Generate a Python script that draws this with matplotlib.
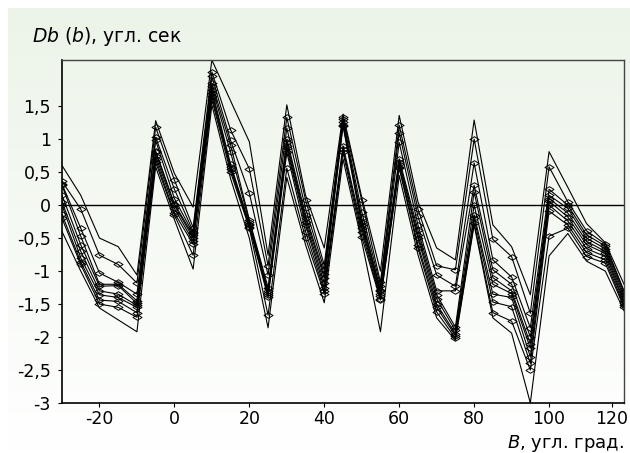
import numpy as np
import matplotlib
matplotlib.use('Agg')
import matplotlib.pyplot as plt
from matplotlib.path import Path

plt.rcParams['font.family'] = ['DejaVu Sans']
plt.rcParams['mathtext.fontset'] = 'dejavusans'

# ------------------------------------------------ #
# ---------------- data (read off) --------------- #
# ------------------------------------------------ #
B = list(range(-30, 121, 5))

# envelope lines, no markers
upper = [0.6, 0.15, -0.5, -0.63, -1.06, 1.28, 0.48, -0.03, 2.2, 1.58, 0.96, -0.76, 1.52, 0.15, -0.65, 1.38,
         0.12, -1.0, 1.36, 0.05, -0.65, -0.83, 1.29, -0.3, -0.63, -1.36, 0.81, 0.27, -0.28, -0.57, -1.2]
lower = [-0.4, -1.0, -1.56, -1.74, -1.92, 0.58, -0.22, -0.97, 1.52, 0.4, -0.5, -1.86, 0.42, -0.6, -1.48, 0.7,
         -0.55, -1.92, 0.45, -0.75, -1.71, -2.05, -0.3, -1.71, -1.94, -3.0, -0.77, -0.43, -0.85, -1.0, -1.6]

# measured series with diamond markers
s1 = [0.36, -0.06, -0.76, -0.9, -1.18, 1.18, 0.38, -0.34, 2.02, 1.14, 0.55, -0.92, 1.33, 0.08, -0.91, 1.33,
      0.07, -1.17, 1.21, -0.06, -0.92, -0.98, 1.0, -0.52, -0.78, -1.64, 0.58, 0.05, -0.39, -0.59, -1.3]
s2 = [0.32, -0.35, -1.03, -1.17, -1.35, 1.03, 0.24, -0.4, 1.95, 0.98, 0.18, -1.06, 1.17, -0.05, -0.98, 1.3,
      -0.1, -1.22, 1.1, -0.17, -1.06, -1.23, 0.64, -0.83, -1.09, -1.86, 0.24, 0.0, -0.45, -0.62, -1.32]
s3 = [0.3, -0.47, -1.2, -1.2, -1.45, 0.98, 0.1, -0.43, 1.85, 0.91, -0.22, -1.25, 1.0, -0.15, -1.05, 1.26,
      -0.2, -1.28, 0.95, -0.3, -1.3, -1.3, 0.3, -0.98, -1.2, -2.0, 0.15, -0.05, -0.5, -0.66, -1.36]
s4 = [0.15, -0.6, -1.23, -1.22, -1.49, 0.82, 0.02, -0.46, 1.8, 0.8, -0.25, -1.3, 0.95, -0.2, -1.1, 1.22,
      -0.25, -1.3, 0.7, -0.38, -1.36, -1.85, 0.2, -1.1, -1.3, -2.1, 0.1, -0.12, -0.55, -0.7, -1.4]
s5 = [0.05, -0.7, -1.3, -1.35, -1.52, 0.8, 0.0, -0.5, 1.75, 0.62, -0.28, -1.33, 0.9, -0.25, -1.18, 1.2,
      -0.3, -1.34, 0.66, -0.45, -1.42, -1.9, 0.0, -1.2, -1.34, -2.17, 0.06, -0.18, -0.6, -0.73, -1.45]
s6 = [0.0, -0.8, -1.36, -1.4, -1.55, 0.75, -0.05, -0.55, 1.7, 0.58, -0.3, -1.36, 0.86, -0.3, -1.25, 0.9,
      -0.34, -1.38, 0.62, -0.5, -1.5, -1.95, -0.15, -1.35, -1.4, -2.3, 0.0, -0.24, -0.66, -0.78, -1.48]
s7 = [-0.14, -0.86, -1.44, -1.46, -1.63, 0.7, -0.12, -0.59, 1.65, 0.55, -0.33, -1.4, 0.8, -0.4, -1.3, 0.85,
      -0.4, -1.42, 0.58, -0.6, -1.55, -1.98, -0.2, -1.47, -1.54, -2.4, -0.09, -0.3, -0.72, -0.83, -1.52]
s8 = [-0.2, -0.9, -1.5, -1.55, -1.7, 0.65, -0.15, -0.76, 1.6, 0.5, -0.35, -1.67, 0.56, -0.5, -1.34, 0.8,
      -0.48, -1.44, 0.56, -0.65, -1.62, -2.02, -0.27, -1.63, -1.76, -2.5, -0.47, -0.35, -0.78, -0.88, -1.55]

series = [s1, s2, s3, s4, s5, s6, s7, s8]

yticks = [-3, -2.5, -2, -1.5, -1, -0.5, 0, 0.5, 1, 1.5]
ytick_labels = ['-3', '-2,5', '-2', '-1,5', '-1', '-0,5', '0', '0,5', '1', '1,5']
xtick_labels = ['-20', '0', '20', '40', '60', '80', '100', '120']

# ------------------------------------------------ #
# ------------------ FIGURE ---------------------- #
# ------------------------------------------------ #
W, H = 630, 453
fig = plt.figure(figsize=(W / 100, H / 100), dpi=100)
fig.patch.set_facecolor('white')

# light green -> white background panel
bg = fig.add_axes([8 / W, 0, 1 - 8 / W, 1 - 8 / H])
grad = np.linspace(0, 1, 256)[:, None]
top_c = np.array([236, 244, 232]) / 255.
bot_c = np.array([255, 255, 255]) / 255.
img = top_c[None, None, :] * (1 - grad[:, :, None]) + bot_c[None, None, :] * grad[:, :, None]
img = np.repeat(img, 2, axis=1)
bg.imshow(img, aspect='auto', extent=[0, 1, 0, 1])
bg.set_axis_off()

ax = fig.add_axes([62 / W, 1 - 403 / H, (624 - 62) / W, (403 - 60) / H])
ax.patch.set_alpha(0)

diamond = Path([(-1, 0), (0, 0.62), (1, 0), (0, -0.62), (-1, 0)],
               [Path.MOVETO, Path.LINETO, Path.LINETO, Path.LINETO, Path.CLOSEPOLY])

ax.plot(B, upper, color='black', lw=0.8)
ax.plot(B, lower, color='black', lw=0.8)
for s in series:
    ax.plot(B, s, color='black', lw=0.8, marker=diamond, ms=6.5, mfc='none', mec='black', mew=0.7)

ax.axhline(0, color='black', lw=1)

ax.set_xlim(-30, 120)
ax.set_ylim(-3, 2.2)
ax.set_yticks(yticks)
ax.set_yticklabels(ytick_labels)
# last label sits a bit left of the edge like in the source figure
ax.set_xticks([-20, 0, 20, 40, 60, 80, 100, 116.7])
ax.set_xticklabels(xtick_labels)
ax.tick_params(axis='both', direction='out', length=3, width=0.8, labelsize=12.5, colors='black')
ax.tick_params(axis='y', pad=5)
ax.tick_params(axis='x', pad=2)

for sp in ['left', 'bottom']:
    ax.spines[sp].set_linewidth(1.2)
    ax.spines[sp].set_color('black')
for sp in ['top', 'right']:
    ax.spines[sp].set_linewidth(1.0)
    ax.spines[sp].set_color('#444444')

fig.text(32 / W, 1 - 42 / H, r'$Db$ ($b$), угл. сек', fontsize=13.5, ha='left', va='baseline')
fig.text(624 / W, 1 - 448 / H, r'$B$, угл. град.', fontsize=13, ha='right', va='baseline')

fig.savefig('out.png', dpi=100)
